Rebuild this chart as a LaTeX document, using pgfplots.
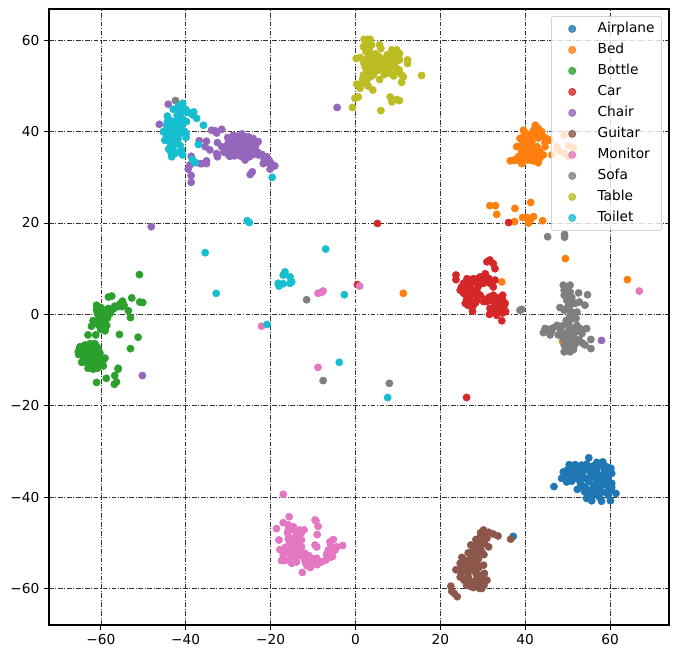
\documentclass[border=0pt]{standalone}
\usepackage{fontspec}
\setmainfont{DejaVu Sans}
\usepackage{pgfplots}
\pgfplotsset{compat=1.18}
\definecolor{tabblue}{HTML}{1F77B4}
\definecolor{taborange}{HTML}{FF7F0E}
\definecolor{tabgreen}{HTML}{2CA02C}
\definecolor{tabred}{HTML}{D62728}
\definecolor{tabpurple}{HTML}{9467BD}
\definecolor{tabbrown}{HTML}{8C564B}
\definecolor{tabpink}{HTML}{E377C2}
\definecolor{tabgray}{HTML}{7F7F7F}
\definecolor{tabolive}{HTML}{BCBD22}
\definecolor{tabcyan}{HTML}{17BECF}
\pgfplotsset{
  dots/.style={only marks, mark=*, mark size=2.7pt, mark options={draw=none, fill=#1}, color=#1},
}
\begin{document}
\begin{tikzpicture}
\path[use as bounding box] (-36.75pt,-25.5pt) rectangle (471.75pt,468.75pt);
\begin{axis}[
  scale only axis, width=465pt, height=462pt,
  xmin=-72.2, xmax=73.9, ymin=-68, ymax=66.85,
  xtick={-60,-40,-20,0,20,40,60}, ytick={-60,-40,-20,0,20,40,60},
  xticklabels={−60,−40,−20,0,20,40,60}, yticklabels={−60,−40,−20,0,20,40,60},
  xtick pos=bottom, ytick pos=left, tick align=outside,
  major tick length=3.65pt,
  tick style={black, line width=0.75pt},
  axis line style={line width=2pt},
  grid=major,
  grid style={black!80, line width=0.4pt, dash pattern=on 3.6pt off 1.2pt on 0.7pt off 1.2pt},
  tick label style={font=\fontsize{10.3pt}{12pt}\selectfont},
  legend cell align=left,
  legend image code/.code={\path (-10pt,0pt) (18.75pt,0pt); \path[#1] plot coordinates {(0pt,0pt)};},
  legend style={
    at={(0.9887,0.9886)}, anchor=north east,
    font=\fontsize{10.3pt}{12pt}\selectfont,
    draw=black!20, line width=0.6pt, rounded corners=1.5pt,
    fill=white, fill opacity=0.8, text opacity=1, draw opacity=0.8,
    row sep=0pt, inner xsep=5.25pt, inner ysep=1.5pt,
    nodes={inner sep=0pt, text height=8pt, text depth=2pt, minimum height=15.75pt},
  },
]
% airplane
\addplot[dots=tabblue] coordinates {
(46.8,-37.7)(55,-31.4)(50.4,-32.9)(51.8,-32.9)(53.3,-33)(56.9,-32.4)(58.3,-32.3)(60.2,-33.7)(60.4,-34.8)(49,-34.5)
(48.6,-35.9)(49.8,-36.7)(50,-34)(51.4,-34.5)(53,-34.8)(55,-34.1)(56.9,-34.1)(58.8,-34.1)(52.2,-35.9)(54.1,-35.9)
(56.1,-35.6)(58,-35.6)(59.6,-35.9)(60.4,-37)(52.3,-38.3)(54.1,-37.7)(56.1,-37.4)(57.7,-37.7)(59.2,-37.4)(60.4,-37.9)
(54.5,-39.2)(56.5,-39.2)(54.5,-40.3)(55.7,-40.8)(58,-40.9)(60.1,-40.8)(59.6,-39.6)(61.4,-39.2)(55.5,-33.5)(57.5,-33)
(59,-33.3)(53,-36.8)(55,-38.5)(58,-38.8)(57,-36.6)(53.5,-33.8)(51,-33.5)(37.2,-48.6)
(50.5,-34.5)(52,-33.5)(53.8,-34.2)(54.5,-32.8)(56,-33.2)(57.8,-33)(59.5,-33.5)(59.7,-35)(58.5,-35)(57,-35)
(55.5,-35.2)(53.5,-35)(52,-35)(50.5,-35.5)(49.8,-35.2)(51,-36.5)(53,-36)(55,-36.5)(57,-37.8)(58.5,-37)
(60,-38.5)(59,-39)(57.5,-40)(56,-38.2)(54,-38.8)(53.2,-37.5)(55.5,-39.8)(59,-36.2)(52.5,-34.3)(56.3,-34)
};
\addlegendentry{Airplane}
% bed
\addplot[dots=taborange] coordinates {
(36.5,33.6)(37.6,33.8)(37.2,33.7)(39.2,33)(39.4,34.5)(38,36.7)(38.8,38.5)(39.6,40.3)(39.6,38.9)(42.4,41.4)
(43.1,40.7)(43.9,40)(42,40.3)(41.6,39.2)(44.3,38.9)(45.9,38.1)(45.1,38.5)(43.1,38.6)(40.4,37.8)(41.6,37.8)
(40.4,36.3)(41.6,36.3)(42.8,36.7)(43.5,35.6)(44.3,34.9)(43.1,33.2)(41.2,33.8)(42,34.2)(40,34.9)(40.8,35.6)
(42.8,34.5)(38.8,36.7)(44.7,36.7)(38.4,34.5)(46.3,34.9)(49.2,39.2)(47.5,36.3)(48.2,35.6)(49.4,35.2)(50.2,34.5)
(50.2,36.9)(51.4,36.5)(47.5,36.7)(31.7,23.8)(33,23.8)(33.3,21.9)(37.6,23.2)(41.3,24.5)(39.4,21.2)(40.4,21.2)
(42,21.4)(41.2,20.6)(40.8,20)(37.5,20.3)(44.1,20.5)(49.5,12.2)(64.1,7.6)(34.5,7.1)(11.3,4.6)(48.8,-5.9)
(41,39)(40.5,39.5)(42.8,39.5)(43.5,39.2)(44.7,37.6)(41,38.5)(39.5,37.5)(40.2,35.2)(39.2,35.5)(41.4,34.6)
(42.4,35.5)(41,37)(39,34)(38.2,33.8)(42,33.6)(43.5,34.3)(40.5,33.8)
};
\addlegendentry{Bed}
% bottle
\addplot[dots=tabgreen] coordinates {
(-50.9,8.7)(-52.7,3.6)(-57.4,4)(-58.2,3.8)(-50.8,2.7)(-50.1,2.6)(-54.9,2.9)(-54.5,2)(-61,2)(-53.5,0.8)
(-60.6,1.3)(-59.4,0.9)(-58.2,1.3)(-56.7,1.8)(-53,-0.7)(-59.4,-0.2)(-57.8,0.2)(-61.8,-1.4)(-60.2,-1.3)(-58.6,-2.4)
(-62.2,-2.6)(-60.2,-2.7)(-59,-3.1)(-63,-4.5)(-61.2,-4.5)(-59,-3.6)(-55.6,-4.4)(-51.2,-5)(-53,-7.5)(-64.9,-7.1)
(-63.7,-6.7)(-62.5,-6.4)(-61.4,-6.4)(-65.3,-8.2)(-64.1,-7.8)(-63,-7.8)(-61.8,-7.5)(-60.6,-7.5)(-64.5,-8.9)(-63.3,-8.9)
(-62.2,-8.9)(-61,-8.2)(-60.2,-8.5)(-59,-9.6)(-59.4,-10)(-64.5,-10.5)(-63.3,-10)(-62.2,-10.4)(-63,-11.8)(-61.8,-12)
(-60.8,-11.8)(-59.4,-11.3)(-55.9,-11.8)(-55.9,-12)(-56.7,-13.4)(-56.3,-14.8)(-56.8,-15.3)(-58.7,-14)(-61,-14.9)
(-64,-7)(-63,-7)(-62,-7)(-61,-7)(-64.5,-8)(-63.5,-8.5)(-62.5,-8)(-61.5,-8.5)(-60.5,-9)(-64,-9.5)
(-63,-9.5)(-62,-9.5)(-61,-9.5)(-63.5,-10.5)(-62.5,-11)(-61.5,-11)(-60.5,-10.5)(-65,-7.5)(-65.2,-8.8)
(-61,1)(-60,1.5)(-60,0.5)(-59,0)(-60.5,-0.8)(-59.5,-1.5)(-61,-2)(-60,-3.3)(-58.5,1)(-57,1.2)
(-55.5,2.3)(-55,1.7)(-56,1.7)(-60.8,0.2)(-58.4,-0.8)(-59.3,-2.3)
};
\addlegendentry{Bottle}
% car
\addplot[dots=tabred] coordinates {
(5.2,19.9)(36.1,20.1)(0.5,6.5)(26.2,-18.2)(31.7,11.9)(31,11.5)(32.5,11.1)(32.9,10)(23.7,8.6)(23.7,7.6)
(26.3,7.8)(27.8,7.8)(29.4,8.2)(30.6,8.9)(31.4,7.9)(32.9,7.5)(25.5,6.8)(30.2,6.8)(31.7,6.8)(32.5,6)
(24.7,5.3)(25.5,4.6)(28.6,5.3)(29.4,4.2)(27.4,4.2)(26.6,3.5)(25.9,2.4)(28.6,3.1)(27.8,2)(27.6,0.7)
(32.5,4.2)(34.7,4.2)(33.7,3.5)(31,2.8)(32.1,3.1)(32.9,2)(35.3,2.4)(35.4,0.6)(34.1,0.9)(31.7,1.3)
(31.6,0)(33.3,-0.2)(34.5,-1.4)(30.2,2.8)(34.1,2.4)(28.2,7)(29,6.2)(27,5.8)
(26.8,6.8)(27.2,7.5)(28.8,7.8)(30,7.6)(30.8,7.3)(25,6)(25.5,5.6)(26,5)(27.8,5.3)(28.2,4.3)
(26.9,3)(26.2,3.3)(28.9,4.5)(31.6,3.8)(32.3,3.2)(33,3.8)(33.7,2.8)(34.8,3)(35,1.7)(33.7,1.6)
(32.6,0.9)(33,0.5)(34.7,0.3)(30.5,3.3)(27.5,1.5)(28.3,2.5)(26.5,2)(29.8,7.6)
};
\addlegendentry{Car}
% chair
\addplot[dots=tabpurple] coordinates {
(-4.3,45.3)(-48.1,19.2)(-50.2,-13.4)(58,-5.7)(-44.1,46)(-46.2,41.6)(-31.5,40.5)(-33.9,40.3)(-32.7,39.7)(-33.1,40.2)
(-28.8,39.2)(-26.7,39.5)(-25.2,38.9)(-24.1,38.5)(-22.9,37.8)(-30.1,38.7)(-36.8,38)(-35.1,37.9)(-32.5,37.6)(-35.4,36.7)
(-34.3,36)(-32.7,35.2)(-32.5,34.5)(-31.5,36.7)(-30.4,36.3)(-29.2,37.4)(-28,37.8)(-26.4,37.4)(-25.2,37)(-24.1,36.7)
(-22.9,34.9)(-20.9,34.5)(-29.6,34.6)(-28,34.9)(-26,33.8)(-27.2,36)(-25.6,35.2)(-24.4,34.9)(-21.7,33)(-19.8,33)
(-19,32.5)(-20.1,31.8)(-24.3,31.2)(-24.8,30.6)(-38.7,34.6)(-39,32.7)(-39.4,31.8)(-38.7,30.4)(-38.7,28.9)(-36.6,33)
(-35.1,33.6)(-35.1,33)(-36.2,33)(-28.5,38.2)(-27,38.8)(-25.5,38)(-27.5,36.5)(-26,36.3)(-28.8,35.5)(-23.5,35.8)
(-21.5,34)(-20.5,33.2)
(-30,37.5)(-29,37)(-30.8,35.8)(-29.8,36)(-28.5,37)(-27.5,37.5)(-26.7,38)(-26,38.5)(-24.8,37.8)(-24,37.5)
(-23.5,37)(-28,36)(-27,35.5)(-28.5,34.7)(-26.8,34.5)(-25.5,36.5)(-24.5,36)(-23,35.5)(-22,35)(-20.3,33.7)
(-29.5,38)(-27.8,39)(-24.7,38.2)(-26.5,35)(-30,35)(-31,35.5)(-25,34.5)
};
\addlegendentry{Chair}
% guitar
\addplot[dots=tabbrown] coordinates {
(30.2,-47.2)(31.4,-47.7)(32.5,-48.1)(33.6,-48.5)(29.4,-48.7)(28.4,-49.3)(31,-49)(36.6,-49.2)(27.2,-50.5)(29.4,-50.5)
(31.4,-50.9)(27.8,-51.6)(26.6,-52.2)(29.8,-52)(30.3,-52.6)(25.1,-53.2)(26.6,-53.8)(28.2,-53.4)(24.7,-54.5)(26.2,-55.3)
(28.6,-54.5)(30.2,-54.9)(23.7,-55.9)(25.5,-56.4)(27.8,-56)(24.7,-57.5)(26.6,-57.5)(30.4,-56.7)(28.6,-58.2)(31,-58.2)
(26.2,-59.3)(27.8,-59.8)(29.8,-60)(30.3,-59.3)(22.5,-59.5)(22.7,-60.6)(23.3,-61.1)(24,-61.8)(28.5,-50)(30,-49.5)
(27,-54.5)(29,-57)(27.5,-58.5)
(29.5,-47.8)(30.5,-48)(28.8,-49.8)(29.8,-49)(30.5,-50.2)(27.8,-50.6)(28.5,-51)(29.5,-51.4)(27.2,-52.2)(28.3,-52.3)
(25.7,-53.8)(27.5,-53)(29,-53.5)(25,-55)(26.3,-54.3)(27.5,-55.5)(29,-55.5)(24.8,-56.3)(26.6,-56.5)(28.5,-57)
(25.6,-58.2)(27,-58.5)(29.5,-58.2)(30,-57.8)(27,-59.5)(28.8,-59.5)(26.5,-57.8)(29.3,-60)
};
\addlegendentry{Guitar}
% monitor
\addplot[dots=tabpink] coordinates {
(1,6.2)(66.9,5.1)(-8.8,4.6)(-8,4.8)(-7.6,5.1)(-22.1,-2.6)(-8.8,-11.6)(-17,-39.4)(-3,-50.6)(-15.6,-44.3)
(-9.5,-45)(-9.3,-45.2)(-8.8,-46.4)(-17,-45.6)(-15.8,-46.1)(-14.6,-46.5)(-18.6,-46.9)(-15.8,-47.2)(-13.1,-47.2)(-12.1,-47.2)
(-9,-48.2)(-18,-49.4)(-15.8,-49.1)(-13.9,-48.7)(-12.7,-49.4)(-9.5,-50.5)(-9.1,-50.9)(-5.2,-49.3)(-6,-49.8)(-4.4,-50.9)
(-4.8,-51.6)(-6.4,-51.6)(-6.8,-52.5)(-17.8,-51.5)(-15.8,-50.9)(-14.2,-50.9)(-12.7,-50.9)(-17,-52.7)(-15.4,-52.4)(-13.9,-52)
(-11.9,-52.3)(-17.4,-53.9)(-16.6,-53.9)(-15,-54.5)(-13.9,-54.2)(-11.7,-54.5)(-10.3,-53.4)(-9.1,-53.4)(-10.7,-54.5)(-10.6,-55.4)
(-12.5,-56.5)(-8,-54.2)(-6,-53.2)(-5.4,-53)
(-15,-49)(-14.5,-49.8)(-13.5,-49.5)(-15.5,-50)(-14.5,-50.5)(-13.5,-50.3)(-15,-51.8)(-14,-51.2)(-13,-51.6)(-14.8,-53)
(-13.8,-53)(-15.3,-53.7)(-16.5,-51)(-16.3,-52)(-12.8,-48)(-14,-47.8)(-13.3,-52.8)(-9.5,-53.8)(-11,-53.8)(-12,-53.7)
(-7,-53.8)(-5.8,-50.5)(-5.5,-51.5)(-16,-47.8)(-15.2,-47)(-11,-52.8)(-9,-54.8)(-11.4,-55)
};
\addlegendentry{Monitor}
% sofa
\addplot[dots=tabgray] coordinates {
(45.3,17)(49.3,17.5)(49.3,16.9)(39.2,1.1)(38.8,0.9)(-42.4,46.8)(-11.5,3.2)(-7.6,-14.5)(8,-15.1)(49,6.4)
(50.6,6.4)(49.2,5.3)(50.6,4.9)(52.6,4.7)(54.7,4.3)(49.2,4.2)(49.8,3.1)(50.6,3.1)(52.8,2.7)(54.1,2)
(48.2,1.5)(49.8,1.3)(52.2,0.5)(50.6,-0.2)(50.6,-1.3)(52,-0.9)(49.8,-2)(47.5,-2.4)(44.7,-3.1)(45.5,-3.3)
(54.5,-3.1)(51.4,-3.1)(48.2,-3.1)(44.3,-4)(45.9,-4.5)(49.8,-4)(51.4,-4.5)(53.4,-4.2)(50.6,-5.3)(52.2,-5.6)
(54.1,-6.7)(55.5,-5.5)(55.5,-7.5)(51.4,-7.1)(49.2,-6.7)(49.2,-8.2)(50.6,-8.2)(51.4,-7.7)(50.2,-6.4)
(49.5,5.8)(50,5.5)(50.2,4)(51,3.7)(51.8,2.4)(50.8,2.2)(50.2,1.8)(49.2,0.9)(50.7,0.7)(51.3,-0.7)
(49.7,-1.3)(48.8,-2.5)(50.6,-2.8)(52.2,-2.4)(53.2,-3.2)(46.5,-3)(46.2,-3.7)(50.2,-3.7)(48.8,-4.2)(47.8,-4.5)
(52,-3.8)(49,-5.3)(50,-4.8)(51.8,-6.5)(52.8,-5.6)(53.5,-6.3)(50.5,-7)(49.8,-7.5)(50.8,-6)
};
\addlegendentry{Sofa}
% table
\addplot[dots=tabolive] coordinates {
(2.84,60.2)(2.06,60.2)(3.5,60.2)(1.9,58.6)(3.3,58)(5.7,59)(6,58.2)(8.6,57.9)(9.75,57.9)(10.4,57.1)
(8.2,56.8)(0.2,56)(1.1,56.2)(3.5,56.8)(4.25,55.7)(12.3,55.7)(12.3,54.9)(10.4,55.7)(9.4,55.3)(7,55.7)
(6.6,54.6)(8.2,54.2)(9.4,54.2)(15.6,52.3)(10.9,52.4)(11.3,52)(10.9,50.8)(9,52.2)(5.7,51.4)(3.9,53.8)
(2.3,54.2)(3.1,53.1)(1.9,52.4)(3.5,52)(4.25,52.4)(2.7,51.3)(1.5,50.5)(0.3,50.4)(1.1,49.5)(4.1,49.1)
(0.7,47.6)(-0.1,47.3)(-0.7,45.3)(6,44.6)(8.2,47.6)(8.6,46.5)(9.75,47)(10.4,46.8)(3.2,55)(4.5,54)
(8,55.5)(9.5,56.5)(3,50)
(2.5,59)(3.8,59)(2.5,57.5)(3.5,57)(2.8,56)(4,56.3)(4.7,57)(5.5,56.5)(6,56)(7.5,56.8)
(8.8,56.5)(9,55.5)(10,56.5)(8.5,55)(7,54.6)(6,55)(5,55.5)(4.5,54.8)(3,54.5)(2,55)
(3.5,53)(4.5,53)(5.5,53.5)(3,52)(2.5,52.8)(8,52.8)(7,53.3)(9.5,53)(10.3,53.5)(6.8,52.5)(1.7,51.5)
};
\addlegendentry{Table}
% toilet
\addplot[dots=tabcyan] coordinates {
(-40.7,46.2)(-41.7,45.6)(-42.9,44.9)(-39.8,44.3)(-38.1,44.3)(-38.2,43.6)(-37.4,42.9)(-41.3,43.6)(-44.3,43.4)(-43.7,42.5)
(-42.1,42.5)(-39.8,42.2)(-35.8,41.4)(-43,41)(-44.5,41.4)(-41.3,40.7)(-45.3,40)(-43.7,40)(-42.5,39.6)(-40.2,40)
(-39.9,38.7)(-44.9,38.1)(-43.7,38.5)(-42.9,37.8)(-43.5,37)(-41.3,37)(-41,36)(-42.9,36)(-40.7,34.9)(-43.3,34.5)
(-42.5,35.2)(-37,37.2)(-38.4,33.9)(-37.7,33.2)(-19.6,30)(-25.5,20.5)(-25,20.1)(-35.4,13.5)(-32.8,4.6)(-7,14.3)
(-16.6,9.3)(-17,8.6)(-15.4,8.2)(-15,7.1)(-15.4,6.8)(-18.2,6.8)(-17,6.7)(-18,6.2)(-20.8,-2.2)(-2.6,4.3)
(-3.8,-10.5)(7.6,-18.2)
(-43.5,41.5)(-42.5,41)(-43.9,40.7)(-42.8,40.3)(-41.9,40.2)(-41.5,39.5)(-44.5,39)(-43.5,39)(-42.5,38.8)(-41.8,38.4)
(-44,38)(-41.9,41.3)(-42.8,42)(-42,43.5)(-40.8,42.8)(-40.8,41.5)(-44.3,42.2)(-41.5,44.2)(-40.5,45.2)(-39.9,44.8)
(-43,36.8)(-44,36.2)(-43.5,35.5)(-41.3,35.5)(-38.8,44)(-39.9,39.5)(-38,33.4)(-42,37.4)
};
\addlegendentry{Toilet}
\end{axis}
\end{tikzpicture}
\end{document}
